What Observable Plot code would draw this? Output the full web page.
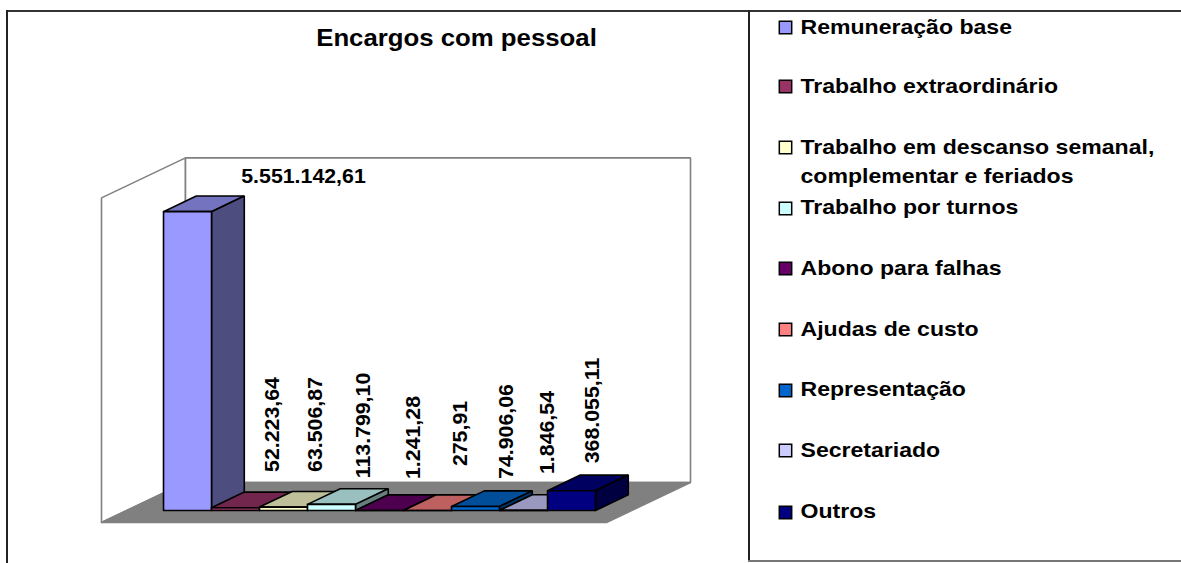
<!DOCTYPE html>
<html lang="pt">
<head>
<meta charset="utf-8">
<script src="https://cdn.jsdelivr.net/npm/d3@7"></script>
<script src="https://cdn.jsdelivr.net/npm/@observablehq/plot@0.6"></script>
<style>
html,body{margin:0;padding:0;background:#fff;overflow:hidden}
#stage{position:relative;width:1181px;height:563px}
#stage svg{display:block}
.frame{position:absolute;box-sizing:border-box;pointer-events:none}
</style>
</head>
<body>
<div id="stage">
<div class="frame" style="left:6px;top:10px;width:1175px;height:2px;background:#333"></div>
<div class="frame" style="left:6px;top:10px;width:2px;height:553px;background:#222"></div>
<div class="frame" style="left:748px;top:10px;width:2px;height:552px;background:#222"></div>
<div class="frame" style="left:748px;top:560px;width:433px;height:2px;background:#777"></div>
</div>
<script>
const title = "Encargos com pessoal";
const categories = ["Remuneração base","Trabalho extraordinário","Trabalho em descanso semanal,\ncomplementar e feriados","Trabalho por turnos","Abono para falhas","Ajudas de custo","Representação","Secretariado","Outros"];
const values = [5551142.61,52223.64,63506.87,113799.10,1241.28,275.91,74906.06,1846.54,368055.11];
const palette = ["#9999FF","#993366","#FFFFCC","#CCFFFF","#660066","#FF8080","#0066CC","#CCCCFF","#000080"];

// layout (pixels on the page)
const labelCx = [303,272,315,363,413,460,506,547,592];
const labelCy = [176,424,424,425,437,433,431,432,410];
const legendCy = [27,86,147,208,268,329,390,450,512];
const legendTextTop = [14,73,134,194,255,316,376,437,498];

const pxPerValue = 323/6000000, pxPerUnit = 48, originX = 101, originY = 522;
const X = px => (px-originX)/pxPerUnit;
const V = py => (originY-py)/pxPerValue;
const DX = 84/pxPerUnit, DV = 40/pxPerValue;           // oblique shift for full depth
const P = (x,v,d) => ({x:x+d*DX, y:v+d*DV});
const floorW = 505/pxPerUnit, wallH = 6030000;
const barStart = 0.767, d0 = 0.3, d1 = 0.69;

const scaleColor = (hex,f) => { const c = d3.rgb(hex); return d3.rgb(c.r*f,c.g*f,c.b*f).formatHex(); };

const faces = [];
const addFace = (id,fill,stroke,pts) => pts.concat(pts[0]).forEach(p => faces.push({...p,id,fill,stroke}));
addFace("left","#ffffff","#808080",[P(0,0,0),P(0,wallH,0),P(0,wallH,1),P(0,0,1)]);
addFace("back","#ffffff","#808080",[P(0,0,1),P(0,wallH,1),P(floorW,wallH,1),P(floorW,0,1)]);
addFace("floor","#808080","#808080",[P(0,0,0),P(0,0,1),P(floorW,0,1),P(floorW,0,0)]);
const barFaces = [];
values.forEach((v,i) => {
  const a = barStart+i, b = a+1, c = palette[i];
  const add = (id,fill,pts) => pts.concat(pts[0]).forEach(p => barFaces.push({...p,id:id+i,fill}));
  add("top",scaleColor(c,.75),[P(a,v,d0),P(b,v,d0),P(b,v,d1),P(a,v,d1)]);
  add("side",scaleColor(c,.5),[P(b,0,d0),P(b,0,d1),P(b,v,d1),P(b,v,d0)]);
  add("front",c,[P(a,0,d0),P(b,0,d0),P(b,v,d0),P(a,v,d0)]);
});

const fmt = d3.formatLocale({decimal:",",thousands:".",grouping:[3],currency:["","€"]}).format(",.2f");
const labels = values.map((v,i) => ({text:fmt(v),x:X(labelCx[i]),y:V(labelCy[i]),rotate:i===0?0:-90}));
const legend = categories.map((name,i) => ({name,color:palette[i],cy:V(legendCy[i]),ty:V(legendTextTop[i])}));

const chart = Plot.plot({
  width:1181,height:563,margin:0,
  style:{background:"transparent",fontFamily:"'Liberation Sans',Arial,sans-serif",color:"#000"},
  x:{domain:[X(0),X(1181)],range:[0,1181],axis:null},
  y:{domain:[V(563),V(0)],range:[563,0],axis:null},
  color:{type:"identity"},
  marks:[
    Plot.line(faces,{x:"x",y:"y",z:"id",fill:"fill",stroke:"stroke",strokeWidth:1.6,strokeLinejoin:"miter"}),
    Plot.line(barFaces,{x:"x",y:"y",z:"id",fill:"fill",stroke:"#000",strokeWidth:1.6,strokeLinejoin:"miter"}),
    Plot.text([title],{x:X(456),y:V(38),text:d=>d,fontSize:23,fontWeight:"bold",fill:"#000",textAnchor:"middle",lineAnchor:"middle"}),
    Plot.text(labels,{x:"x",y:"y",text:"text",rotate:"rotate",fontSize:20.5,fontWeight:"bold",fill:"#000",textAnchor:"middle",lineAnchor:"middle"}),
    Plot.dot(legend,{x:()=>X(785),y:"cy",symbol:"square",r:7,fill:"color",stroke:"#000",strokeWidth:1.5}),
    Plot.text(legend,{x:()=>X(800),y:"ty",text:"name",fontSize:20.5,lineHeight:1.37,fontWeight:"bold",fill:"#000",textAnchor:"start",lineAnchor:"top"})
  ]
});
document.getElementById("stage").prepend(chart);

// the reference's text is horizontally stretched
const stretch = [1.12,1.04,1.125];
chart.querySelectorAll('g[aria-label="text"]').forEach((g,k) => {
  g.querySelectorAll("text").forEach(t => {
    const parts = t.querySelectorAll("tspan");
    (parts.length ? [...parts] : [t]).forEach(el => {
      el.setAttribute("textLength",(el.getComputedTextLength()*stretch[k]).toFixed(1));
      el.setAttribute("lengthAdjust","spacingAndGlyphs");
    });
  });
});
</script>
</body>
</html>
